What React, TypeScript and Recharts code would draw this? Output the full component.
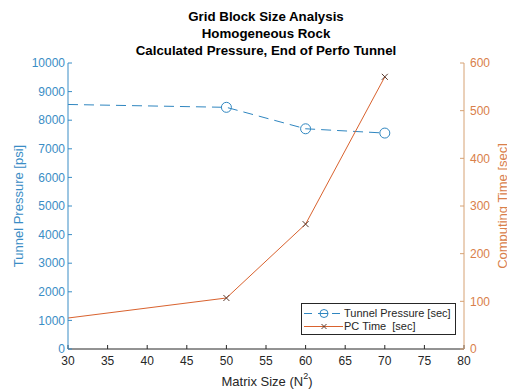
import React from 'react';
import { LineChart, Line, XAxis, YAxis, Legend } from 'recharts';

const matrixSize = [30, 50, 60, 70];
const tunnelPressure = [8550, 8450, 7700, 7550];
const pcTime = [65, 107, 262, 571];
const xTicks = [30, 35, 40, 45, 50, 55, 60, 65, 70, 75, 80];
const pressureTicks = [0, 1000, 2000, 3000, 4000, 5000, 6000, 7000, 8000, 9000, 10000];
const timeTicks = [0, 100, 200, 300, 400, 500, 600];
const titleLines = ['Grid Block Size Analysis', 'Homogeneous Rock', 'Calculated Pressure, End of Perfo Tunnel'];

const data = matrixSize.map((x, i) => ({ x, pressure: tunnelPressure[i], time: pcTime[i] }));

const FONT = '"Liberation Sans", Arial, Helvetica, sans-serif';
const BLUE = '#3a8dc5';
const BLUE_LINE = '#2f86c0';
const ORANGE = '#d9804a';
const ORANGE_AXIS = '#d6a274';
const ORANGE_LINE = '#d9622e';
const MARK_X = '#5b3a2e';
const DARK = '#262626';

const CircleDot = (props: any) => {
  const { cx, cy, index } = props;
  if (index === 0) return <g key={`c${index}`} />;
  return <circle key={`c${index}`} cx={cx} cy={cy} r={5} fill="none" stroke={BLUE_LINE} strokeWidth={1} />;
};

const CrossDot = (props: any) => {
  const { cx, cy, index } = props;
  if (index === 0) return <g key={`x${index}`} />;
  const s = 3;
  return (
    <g key={`x${index}`} stroke={MARK_X} strokeWidth={1}>
      <line x1={cx - s} y1={cy - s} x2={cx + s} y2={cy + s} />
      <line x1={cx - s} y1={cy + s} x2={cx + s} y2={cy - s} />
    </g>
  );
};

const LegendBox = () => (
  <div style={{ position: 'relative', border: `1px solid ${DARK}`, background: '#fff', width: 155, height: 32, fontFamily: FONT, fontSize: 11, color: DARK, boxSizing: 'border-box', whiteSpace: 'nowrap' }}>
    <svg width={42} height={30} style={{ position: 'absolute', left: 1, top: 0 }}>
      <line x1={1} y1={9.5} x2={40} y2={9.5} stroke={BLUE_LINE} strokeDasharray="8 6" />
      <circle cx={21} cy={9.5} r={4} fill="#fff" stroke={BLUE_LINE} />
      <line x1={17} y1={9.5} x2={25} y2={9.5} stroke={BLUE_LINE} />
      <line x1={1} y1={22.5} x2={40} y2={22.5} stroke={ORANGE_LINE} />
      <line x1={18.5} y1={20} x2={23.5} y2={25} stroke={MARK_X} />
      <line x1={18.5} y1={25} x2={23.5} y2={20} stroke={MARK_X} />
    </svg>
    <span style={{ position: 'absolute', left: 42, top: 2, lineHeight: '14px' }}>Tunnel Pressure [sec]</span>
    <span style={{ position: 'absolute', left: 42, top: 15, lineHeight: '14px', whiteSpace: 'pre' }}>PC Time  [sec]</span>
  </div>
);

export default function App() {
  return (
    <div style={{ position: 'absolute', left: 0, top: 0, width: 507, height: 390, background: '#fff', fontFamily: FONT, overflow: 'hidden' }}>
      <div style={{ position: 'absolute', left: 0, top: 8, width: 532, textAlign: 'center', fontWeight: 'bold', fontSize: 13.3, color: '#000', lineHeight: '17.2px' }}>
        {titleLines.map((t) => (
          <div key={t}>{t}</div>
        ))}
      </div>
      <LineChart width={507} height={390} data={data} margin={{ top: 63, right: 0, bottom: 0, left: 0 }}>
        <XAxis
          xAxisId="bottom"
          dataKey="x"
          type="number"
          domain={[30, 80]}
          ticks={xTicks}
          height={41}
          stroke={DARK}
          tickSize={-4}
          tickMargin={11}
          tick={{ fill: DARK, fontSize: 12, fontFamily: FONT }}
        />
        <XAxis
          xAxisId="top"
          orientation="top"
          dataKey="x"
          type="number"
          domain={[30, 80]}
          ticks={xTicks}
          height={0}
          stroke={DARK}
          tickSize={-4}
          tick={false}
        />
        <YAxis
          yAxisId="left"
          domain={[0, 10000]}
          ticks={pressureTicks}
          width={68}
          stroke={BLUE}
          tickSize={-4}
          tickMargin={7}
          tick={{ fill: BLUE, fontSize: 12, fontFamily: FONT }}
        />
        <YAxis
          yAxisId="right"
          orientation="right"
          domain={[0, 600]}
          ticks={timeTicks}
          width={43}
          stroke={ORANGE_AXIS}
          tickSize={-4}
          tickMargin={10}
          tick={{ fill: ORANGE, fontSize: 12, fontFamily: FONT }}
        />
        <Line
          xAxisId="bottom"
          yAxisId="left"
          dataKey="pressure"
          stroke={BLUE_LINE}
          strokeWidth={1}
          strokeDasharray="10 6"
          dot={CircleDot}
          activeDot={false}
          isAnimationActive={false}
        />
        <Line
          xAxisId="bottom"
          yAxisId="right"
          dataKey="time"
          stroke={ORANGE_LINE}
          strokeWidth={1}
          dot={CrossDot}
          activeDot={false}
          isAnimationActive={false}
        />
        <Legend
          layout="horizontal"
          verticalAlign="middle"
          align="center"
          content={() => <LegendBox />}
          wrapperStyle={{ position: 'absolute', left: 301, top: 303, width: 155, height: 32 }}
        />
      </LineChart>
      <div style={{ position: 'absolute', left: 18, top: 206, transform: 'translate(-50%, -50%) rotate(-90deg)', whiteSpace: 'nowrap', color: BLUE, fontSize: 13 }}>
        Tunnel Pressure [psi]
      </div>
      <div style={{ position: 'absolute', left: 502, top: 206, transform: 'translate(-50%, -50%) rotate(-90deg)', whiteSpace: 'nowrap', color: ORANGE, fontSize: 13 }}>
        Computing Time [sec]
      </div>
      <div style={{ position: 'absolute', left: 267, top: 381, transform: 'translate(-50%, -50%)', whiteSpace: 'nowrap', color: DARK, fontSize: 13 }}>
        Matrix Size (N<sup style={{ fontSize: 9, verticalAlign: 'top', position: 'relative', top: -3 }}>2</sup>)
      </div>
    </div>
  );
}
